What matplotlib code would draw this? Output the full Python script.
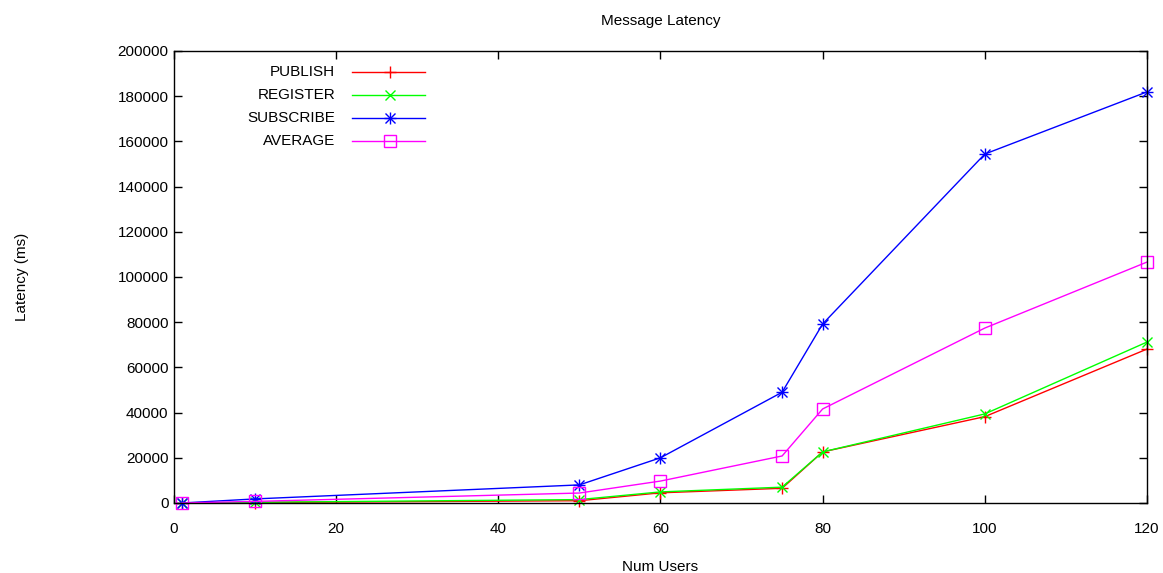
import numpy as np
import matplotlib.pyplot as plt
from matplotlib.lines import Line2D

plt.rcParams['font.family'] = ['Liberation Sans', 'DejaVu Sans']

# data
users = [1, 10, 50, 60, 75, 80, 100, 120]
publish = [0, 200, 1000, 4500, 6500, 22600, 38200, 68100]
register = [0, 300, 1500, 4900, 7000, 22600, 39400, 71200]
subscribe = [0, 1800, 8000, 20000, 49000, 79200, 154400, 181900]
average = [0, 700, 4400, 9700, 20800, 41600, 77400, 106600]

names = ['PUBLISH', 'REGISTER', 'SUBSCRIBE', 'AVERAGE']
colors = ['#ff0000', '#00ff00', '#0000ff', '#ff00ff']

fig = plt.figure(figsize=(11.63, 5.73), dpi=100)
ax = fig.add_axes([0.1496, 0.1222, 0.8366, 0.7888])


def draw(ax, x, y, name, color, transform=None):
    kw = dict(color=color, lw=1, clip_on=False)
    if transform is not None:
        kw['transform'] = transform
    if name == 'PUBLISH':
        ax.plot(x, y, marker='+', ms=9, mew=1, **kw)
    elif name == 'REGISTER':
        ax.plot(x, y, marker='x', ms=7, mew=1, **kw)
    elif name == 'SUBSCRIBE':
        ax.plot(x, y, marker='+', ms=9, mew=1, **kw)
        kw['lw'] = 0
        ax.plot(x, y, marker='x', ms=7, mew=1, **kw)
    else:
        ax.plot(x, y, marker='s', ms=8, mew=1, mfc='none', **kw)


series = [publish, register, subscribe, average]
for vals, name, c in zip(series, names, colors):
    draw(ax, users, vals, name, c)

ax.set_xlim(0, 120)
ax.set_ylim(0, 200000)
ax.set_xticks(np.arange(0, 121, 20))
ax.set_yticks(np.arange(0, 200001, 20000))
ax.tick_params(direction='in', length=6, width=1, top=True, right=True,
               labelsize=11)
ax.tick_params(axis='x', pad=14)
ax.tick_params(axis='y', pad=4)
for s in ax.spines.values():
    s.set_linewidth(1)

ax.set_title('Message Latency', fontsize=11, pad=19)
ax.set_xlabel('Num Users', fontsize=11, labelpad=17)
ax.set_ylabel('Latency (ms)', fontsize=11, labelpad=64)

# gnuplot-style key: text right-aligned, sample on the right
rows = [0.954, 0.903, 0.852, 0.801]
for yy, name, c in zip(rows, names, colors):
    ax.text(0.1655, yy, name, transform=ax.transAxes, ha='right', va='center',
            fontsize=11)
    ax.add_line(Line2D([0.183, 0.258], [yy, yy], color=c, lw=1,
                       transform=ax.transAxes))
    draw(ax, [0.222], [yy], name, c, transform=ax.transAxes)

fig.savefig('out.png', dpi=100)
